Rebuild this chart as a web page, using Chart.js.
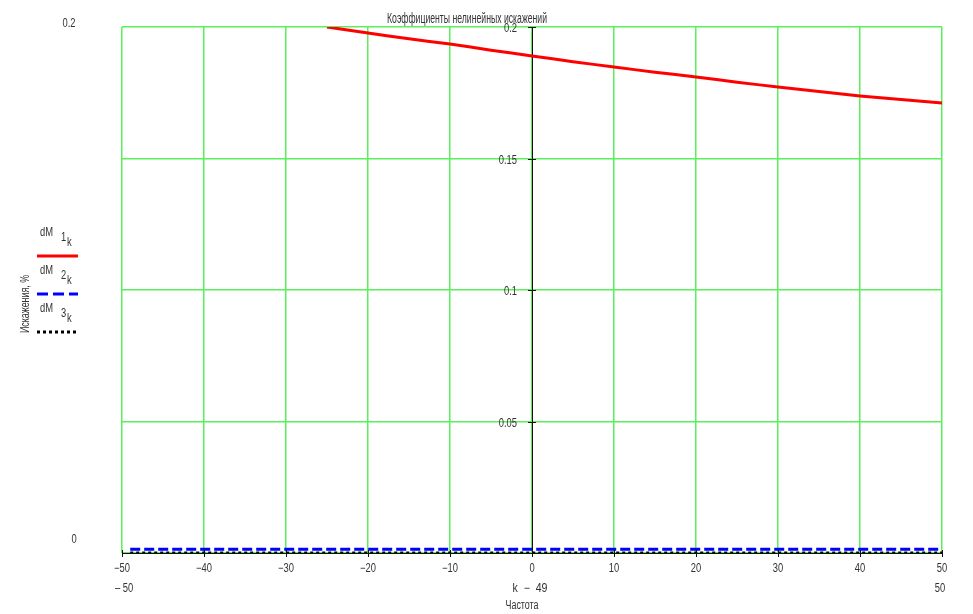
<!DOCTYPE html>
<html>
<head>
<meta charset="utf-8">
<script src="https://cdn.jsdelivr.net/npm/chart.js@4.4.1/dist/chart.umd.min.js"></script>
<style>
html,body{margin:0;padding:0;background:#fff;}
#wrap{width:973px;height:614px;position:relative;}
</style>
</head>
<body>
<div id="wrap"><canvas id="c" width="973" height="614"></canvas></div>
<script>
// ---- data ----
const titleText = "Коэффициенты нелинейных искажений";
const xTitle1 = "k  \u2212  49";
const xTitle2 = "Частота";
const yTitle = "Искажения, %";
const xTicks = [-50, -40, -30, -20, -10, 0, 10, 20, 30, 40, 50];
const yTicks = [0.05, 0.1, 0.15, 0.2];
const yTickLabels = ["0.05", "0.1", "0.15", "0.2"];

// dM1_k (red, solid) – visible part below 0.2
const redX = [-25, -20, -15, -10, -5, 0, 5, 10, 15, 20, 25, 30, 35, 40, 45, 50];
const redY = [0.2, 0.1977, 0.1955, 0.1935, 0.1912, 0.189, 0.1868, 0.1848, 0.1828, 0.181, 0.179, 0.1772, 0.1755, 0.1738, 0.1724, 0.1711];
// dM2_k (blue, dashed) and dM3_k (black, dotted)
const flatX = [-49, -40, -30, -20, -10, 0, 10, 20, 30, 40, 50];
const blueY = [0.0014, 0.0014, 0.0014, 0.0014, 0.0014, 0.0014, 0.0014, 0.0014, 0.0014, 0.0014, 0.0014];
const blackY = [0, 0, 0, 0, 0, 0, 0, 0, 0, 0, 0];

const FONT = '"Liberation Sans", Arial, sans-serif';
const TXT = '#333';
const SX = 0.78; // horizontal squeeze to imitate a narrow face

function pts(xs, ys){ return xs.map((x,i)=>({x:x, y:ys[i]})); }

function nText(ctx, s, x, y, align, size, sx){
  ctx.save();
  ctx.font = size + 'px ' + FONT;
  ctx.textBaseline = 'middle';
  ctx.textAlign = align;
  ctx.translate(x, y);
  ctx.scale(sx || SX, 1);
  ctx.fillText(s, 0, 0);
  ctx.restore();
}
function fitText(ctx, s, x, y, width, size){
  ctx.save();
  ctx.font = size + 'px ' + FONT;
  const w = ctx.measureText(s).width;
  ctx.restore();
  nText(ctx, s, x, y, 'center', size, width / w);
}

const decor = {
  id: 'decor',
  beforeDatasetsDraw(chart){
    const ctx = chart.ctx, xs = chart.scales.x, ys = chart.scales.y;
    const x0 = xs.getPixelForValue(0), yb = ys.getPixelForValue(0);
    ctx.save();
    ctx.strokeStyle = '#111';
    ctx.lineWidth = 1;
    ctx.beginPath(); ctx.moveTo(Math.round(x0)+0.5, ys.top); ctx.lineTo(Math.round(x0)+0.5, yb); ctx.stroke();
    yTicks.forEach(v=>{
      const y = Math.round(ys.getPixelForValue(v))+0.5;
      ctx.beginPath(); ctx.moveTo(x0-4, y); ctx.lineTo(x0+4, y); ctx.stroke();
    });
    ctx.beginPath(); ctx.moveTo(xs.left, Math.round(yb)+0.5); ctx.lineTo(xs.right, Math.round(yb)+0.5); ctx.stroke();
    xTicks.forEach(v=>{
      const x = Math.round(xs.getPixelForValue(v))+0.5;
      ctx.beginPath(); ctx.moveTo(x, yb-3); ctx.lineTo(x, yb+4); ctx.stroke();
    });
    ctx.restore();
  },
  afterDraw(chart){
    const ctx = chart.ctx, xs = chart.scales.x, ys = chart.scales.y;
    const x0 = xs.getPixelForValue(0);
    ctx.save();
    ctx.fillStyle = TXT;
    fitText(ctx, titleText, 467, 19, 160, 14);
    yTicks.forEach((v,i)=>{
      nText(ctx, yTickLabels[i], x0-15, ys.getPixelForValue(v)+2, 'right', 12);
    });
    xTicks.forEach(v=>{
      const s = v < 0 ? '\u2212' + Math.abs(v) : String(v);
      nText(ctx, s, xs.getPixelForValue(v), 569, 'center', 12);
    });
    nText(ctx, '\u2013 50', 124, 589, 'center', 12);
    nText(ctx, '50', 940, 589, 'center', 12);
    nText(ctx, '0.2', 69, 24, 'center', 12);
    nText(ctx, '0', 74, 540, 'center', 12);
    fitText(ctx, xTitle1, 530, 589, 35, 12);
    fitText(ctx, xTitle2, 522, 606, 33, 12);
    ctx.save();
    ctx.translate(25, 304);
    ctx.rotate(-Math.PI/2);
    fitText(ctx, yTitle, 0, 0, 58, 13);
    ctx.restore();
    const leg = [
      {n:'1', y:233, ly:256, color:'#ff0000', dash:[]},
      {n:'2', y:271, ly:294, color:'#0000ff', dash:[11,5]},
      {n:'3', y:309, ly:332, color:'#000000', dash:[3,3]}
    ];
    leg.forEach(l=>{
      ctx.fillStyle = TXT;
      nText(ctx, 'dM', 40, l.y, 'left', 12);
      nText(ctx, l.n, 61, l.y+5, 'left', 12);
      nText(ctx, 'k', 67, l.y+10, 'left', 12);
      ctx.strokeStyle = l.color;
      ctx.lineWidth = 3;
      ctx.setLineDash(l.dash);
      ctx.beginPath(); ctx.moveTo(37, l.ly); ctx.lineTo(78, l.ly); ctx.stroke();
      ctx.setLineDash([]);
    });
    ctx.restore();
  }
};

new Chart(document.getElementById('c'), {
  type: 'line',
  data: {
    datasets: [
      {label:'dM1', data: pts(redX, redY), borderColor:'#ff0000', borderWidth:3, pointRadius:0, tension:0.2},
      {label:'dM2', data: pts(flatX, blueY), borderColor:'#0000ff', borderWidth:3, borderDash:[10,4], pointRadius:0},
      {label:'dM3', data: pts(flatX, blackY), borderColor:'#000000', borderWidth:3, borderDash:[3,3], pointRadius:0}
    ]
  },
  options: {
    responsive: false,
    animation: false,
    devicePixelRatio: 1,
    layout: {padding: {left: 122, right: 31, top: 27, bottom: 61}},
    plugins: {legend:{display:false}, tooltip:{enabled:false}, title:{display:false}},
    scales: {
      x: {
        type: 'linear', min: -50, max: 50,
        afterBuildTicks: (s)=>{ s.ticks = xTicks.map(v=>({value:v})); },
        ticks: {display: false},
        grid: {color: 'rgb(90,240,90)', lineWidth: 1.5, drawTicks: false},
        border: {display: false}
      },
      y: {
        type: 'linear', min: 0, max: 0.2,
        afterBuildTicks: (s)=>{ s.ticks = [0].concat(yTicks).map(v=>({value:v})); },
        ticks: {display: false},
        grid: {color: 'rgb(90,240,90)', lineWidth: 1.5, drawTicks: false},
        border: {display: false}
      }
    }
  },
  plugins: [decor]
});
</script>
</body>
</html>
